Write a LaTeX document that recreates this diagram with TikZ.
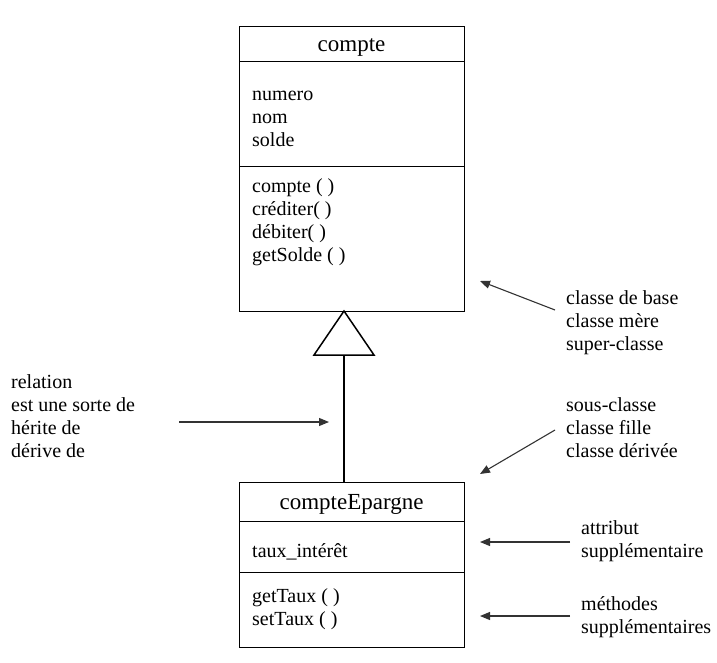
\documentclass[tikz,border=0pt]{standalone}
\usepackage{fontspec}
\setmainfont{Liberation Serif}
\usetikzlibrary{arrows.meta}
\begin{document}
\begin{tikzpicture}[x=1pt,y=-1pt,
  classbox/.style={draw, line width=1pt, anchor=north west, inner sep=0pt},
  title/.style={font=\fontsize{23}{26}\selectfont, inner sep=0pt},
  member/.style={font=\fontsize{20}{23}\selectfont, align=left, anchor=west, inner sep=0pt},
  note/.style={font=\fontsize{20}{23}\selectfont, align=left, anchor=west, inner sep=0pt},
  pointer/.style={-{Triangle[length=10pt,width=8pt]}, line width=1.1pt, draw=black!80},
]
\useasboundingbox (0,0) rectangle (717,663);

% base class
\node[classbox, minimum width=225pt, minimum height=285pt] (compte) at (239,26) {};
\draw[line width=1pt] (239,62) -- (464,62);
\draw[line width=1pt] (239,167) -- (464,167);
\node[title] (compteT) at (351.5,47) {compte};
\node[member] (compteA) at (252,119) {numero\\nom\\solde};
\node[member] (compteM) at (252,222) {compte ( )\\créditer( )\\débiter( )\\getSolde ( )};

% derived class
\node[classbox, minimum width=225pt, minimum height=165pt] (epargne) at (239,482) {};
\draw[line width=1pt] (239,521) -- (464,521);
\draw[line width=1pt] (239,572) -- (464,572);
\node[title] (epargneT) at (351.5,504) {compteEpargne};
\node[member] (epargneA) at (252,552) {taux\_intérêt};
\node[member] (epargneM) at (252,609) {getTaux ( )\\setTaux ( )};

% inheritance: hollow triangle on the base class
\coordinate (triA) at (344,311);
\coordinate (triL) at (314,355);
\coordinate (triR) at (374,355);
\coordinate (triB) at (344,355);
\draw[line width=1.5pt, fill=white, line join=miter] (triA) -- (triR) -- (triL) -- cycle;
\draw[line width=2.2pt] (triB) -- (triB |- epargne.north);

% annotations
\node[note] (base) at (566,323) {classe de base\\classe mère\\super-classe};
\node[note] (sous) at (566,428) {sous-classe\\classe fille\\classe dérivée};
\node[note] (rel) at (11,416.5) {relation\\est une sorte de\\hérite de\\dérive de};
\node[note] (attr) at (581,541.5) {attribut\\supplémentaire};
\node[note] (meth) at (581,617.5) {méthodes\\supplémentaires};

\coordinate (baseS) at (555,310);
\coordinate (baseE) at (480,281);
\coordinate (sousS) at (555,430);
\coordinate (sousE) at (480,474);
\coordinate (relS) at (179,422);
\coordinate (relE) at (329,422);
\coordinate (attrS) at (570,542);
\coordinate (attrE) at (480,542);
\coordinate (methS) at (570,616);
\coordinate (methE) at (480,616);

\draw[pointer] (baseS) -- (baseE);
\draw[pointer] (sousS) -- (sousE);
\draw[pointer] (relS) -- (relE);
\draw[pointer] (attrS) -- (attrE);
\draw[pointer] (methS) -- (methE);
\end{tikzpicture}
\end{document}
